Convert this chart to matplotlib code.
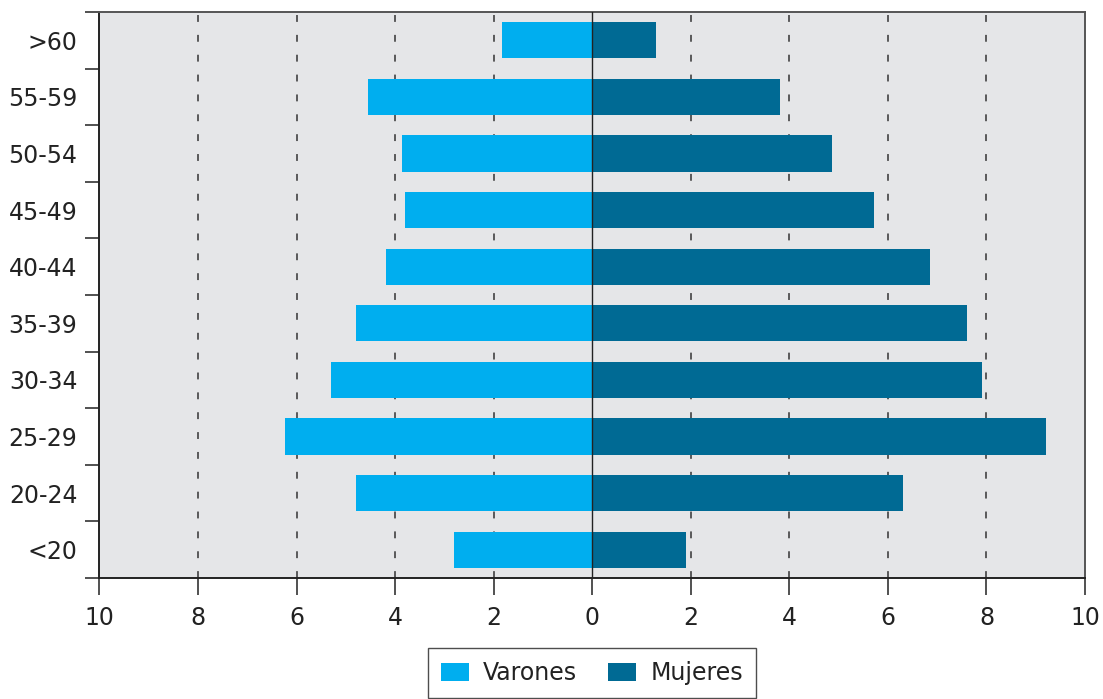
import numpy as np
import matplotlib
matplotlib.use("Agg")
import matplotlib.pyplot as plt
from matplotlib.patches import Patch

# ── Data ──────────────────────────────────────────────────────
grupos  = ["<20", "20-24", "25-29", "30-34", "35-39",
           "40-44", "45-49", "50-54", "55-59", ">60"]
varones = [2.80, 4.79, 6.23, 5.31, 4.79, 4.18, 3.79, 3.87, 4.56, 1.83]
mujeres = [1.91, 6.31, 9.21, 7.91, 7.61, 6.86, 5.72, 4.87, 3.81, 1.30]
xticks  = [-10, -8, -6, -4, -2, 0, 2, 4, 6, 8, 10]

c_var = "#00AEEF"
c_muj = "#006A94"

plt.rcParams["font.family"] = "DejaVu Sans"

fig = plt.figure(figsize=(11.03, 6.99), dpi=100)
ax = fig.add_axes([0.0902, 0.1731, 0.8935, 0.8097])
ax.set_facecolor("#E5E6E8")

y = np.arange(len(grupos))
ax.barh(y, [-v for v in varones], height=0.64, color=c_var, zorder=3)
ax.barh(y, mujeres, height=0.64, color=c_muj, zorder=3)

# grid + centre line
for t in xticks[1:-1]:
    if t == 0:
        ax.axvline(0, color="#222222", lw=1.0, zorder=4)
    else:
        ax.axvline(t, color="#333333", lw=1.1, ls=(0, (4.5, 8.5)), zorder=1)

ax.set_xlim(-10, 10)
ax.set_ylim(-0.5, len(grupos) - 0.5)
ax.set_xticks(xticks)
ax.set_xticklabels([str(abs(t)) for t in xticks])

# y ticks at boundaries, labels at centres
ax.set_yticks(np.arange(len(grupos) + 1) - 0.5)
ax.set_yticklabels([])
ax.set_yticks(y, minor=True)
ax.set_yticklabels(grupos, minor=True)
ax.tick_params(axis="y", which="major", length=10, width=1.2, color="#333333")
ax.tick_params(axis="y", which="minor", length=0, pad=16, labelsize=17,
               labelcolor="#222222")
ax.tick_params(axis="x", length=12, width=1.2, color="#333333",
               labelsize=17, labelcolor="#222222", pad=8)

for side in ["left", "bottom"]:
    ax.spines[side].set_color("#222222")
    ax.spines[side].set_linewidth(1.4)
for side in ["top", "right"]:
    ax.spines[side].set_color("#555555")
    ax.spines[side].set_linewidth(1.4)

handles = [Patch(facecolor=c_var, label="Varones"),
           Patch(facecolor=c_muj, label="Mujeres")]
leg = fig.legend(handles=handles, loc="upper center",
                 bbox_to_anchor=(0.5365, 0.073), ncol=2, fontsize=17,
                 frameon=True, fancybox=False, edgecolor="#222222",
                 handlelength=1.2, handleheight=0.8, columnspacing=1.3,
                 borderpad=0.55, handletextpad=0.6, borderaxespad=0)
leg.get_frame().set_linewidth(1.0)
for t in leg.get_texts():
    t.set_color("#222222")

fig.savefig("out.png", dpi=100, facecolor="white")
